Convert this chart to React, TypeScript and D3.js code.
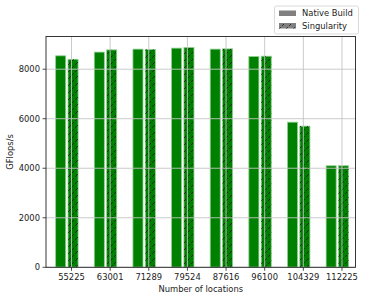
import * as React from 'react';
import * as d3 from 'd3';

const locations = ['55225', '63001', '71289', '79524', '87616', '96100', '104329', '112225'];
const nativeBuild = [8540, 8690, 8810, 8850, 8810, 8510, 5860, 4100];
const singularity = [8400, 8780, 8795, 8875, 8820, 8525, 5700, 4100];
const yTicks = [0, 2000, 4000, 6000, 8000];
const seriesNames = ['Native Build', 'Singularity'];

const W = 365;
const H = 300;
const margin = { left: 46, right: 9.5, top: 36.5, bottom: 32.7 };
const font = 'DejaVu Sans, sans-serif';
const fs = 8.4;

const App: React.FC = () => {
  const x = d3.scaleLinear().domain([-0.66, 7.35]).range([margin.left, W - margin.right]);
  const y = d3.scaleLinear().domain([0, 9320]).range([H - margin.bottom, margin.top]);
  const barW = x(0.26) - x(0);
  const offsets = [-0.41, -0.09];

  const gridColor = '#c4c4c4';

  return (
    <svg width={W} height={H} style={{ position: 'absolute', left: 0, top: 0, fontFamily: font }}>
      <defs>
        <pattern id="hatch" patternUnits="userSpaceOnUse" width="7" height="7">
          <path d="M-1,8 L8,-1" stroke="#1a1a1a" strokeWidth="0.9" strokeDasharray="2.6,1.8" />
        </pattern>
      </defs>
      <rect x={0} y={0} width={W} height={H} fill="white" />

      {/* bars */}
      {[nativeBuild, singularity].map((series, si) =>
        series.map((v, i) => (
          <g key={`b${si}-${i}`}>
            <rect
              x={x(i + offsets[si])}
              y={y(v)}
              width={barW}
              height={y(0) - y(v)}
              fill="#008000"
              stroke="#8fcf8f"
              strokeWidth={0.8}
            />
            {si === 1 && (
              <rect
                x={x(i + offsets[si])}
                y={y(v)}
                width={barW}
                height={y(0) - y(v)}
                fill="url(#hatch)"
              />
            )}
          </g>
        ))
      )}

      {/* grid */}
      {yTicks.map((t) => (
        <line key={`gy${t}`} x1={margin.left} x2={W - margin.right} y1={y(t)} y2={y(t)} stroke={gridColor} strokeWidth={0.9} />
      ))}
      {locations.map((_, i) => (
        <line key={`gx${i}`} x1={x(i)} x2={x(i)} y1={margin.top} y2={H - margin.bottom} stroke={gridColor} strokeWidth={0.9} />
      ))}

      {/* frame */}
      <rect
        x={margin.left}
        y={margin.top}
        width={W - margin.left - margin.right}
        height={H - margin.top - margin.bottom}
        fill="none"
        stroke="#222"
        strokeWidth={0.9}
      />

      {/* y axis */}
      {yTicks.map((t) => (
        <g key={`yt${t}`}>
          <line x1={margin.left - 3.5} x2={margin.left} y1={y(t)} y2={y(t)} stroke="#222" strokeWidth={0.8} />
          <text x={margin.left - 6} y={y(t)} dy="0.35em" textAnchor="end" fontSize={fs} fill="#222">
            {t}
          </text>
        </g>
      ))}
      <text
        transform={`translate(13,${(margin.top + H - margin.bottom) / 2}) rotate(-90)`}
        textAnchor="middle"
        fontSize={fs}
        fill="#222"
      >
        GFlops/s
      </text>

      {/* x axis */}
      {locations.map((l, i) => (
        <g key={`xt${i}`}>
          <line x1={x(i)} x2={x(i)} y1={H - margin.bottom} y2={H - margin.bottom + 3.5} stroke="#222" strokeWidth={0.8} />
          <text x={x(i)} y={H - margin.bottom + 10} dy="0.35em" textAnchor="middle" fontSize={fs} fill="#222">
            {l}
          </text>
        </g>
      ))}
      <text x={(margin.left + W - margin.right) / 2} y={292} textAnchor="middle" fontSize={fs} fill="#222">
        Number of locations
      </text>

      {/* legend */}
      <rect x={274.5} y={6} width={84} height={28} rx={2} fill="white" stroke="#d0d0d0" strokeWidth={0.8} />
      {seriesNames.map((n, i) => (
        <g key={n}>
          <rect x={279} y={10.5 + i * 12.5} width={17} height={5.5} fill="#808080" />
          {i === 1 && <rect x={279} y={10.5 + i * 12.5} width={17} height={5.5} fill="url(#hatch)" />}
          <text x={302} y={13.5 + i * 12.5} dy="0.35em" fontSize={fs} fill="#222">
            {n}
          </text>
        </g>
      ))}
    </svg>
  );
};

export default App;
